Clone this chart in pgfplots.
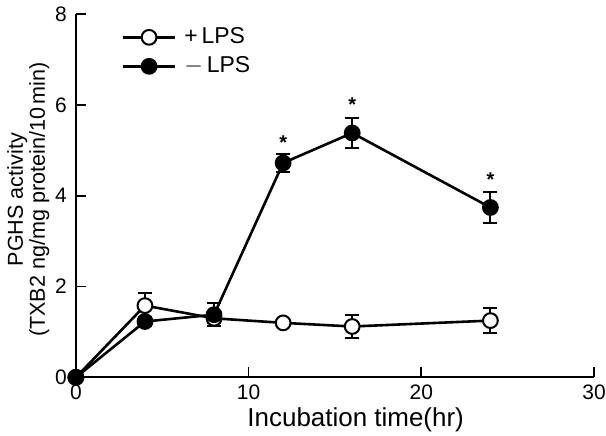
\documentclass[border=0pt]{standalone}
\usepackage{fontspec}
\setmainfont{Liberation Sans}
\usepackage{pgfplots}
\pgfplotsset{compat=1.18}

% time (hr), activity, sd
\pgfplotstableread{
x y e
0 0 0
4 1.58 0.28
8 1.30 0.10
12 1.20 0.08
16 1.12 0.25
24 1.25 0.27
}\withlps
\pgfplotstableread{
x y e
0 0 0
4 1.23 0.10
8 1.38 0.25
12 4.72 0.20
16 5.38 0.33
24 3.74 0.35
}\withoutlps

\begin{document}
\begin{tikzpicture}
\begin{axis}[
  scale only axis,
  width=259.5pt, height=182pt,
  xmin=0, xmax=30, ymin=0, ymax=8,
  axis lines=left,
  axis line style={-, line width=1pt},
  xtick={0,10,20,30}, ytick={0,2,4,6,8},
  tick align=inside, major tick length=5pt,
  tick style={line width=0.9pt, black},
  /pgf/number format/assume math mode=true,
  ticklabel style={font=\fontsize{10.5}{12}\selectfont},
  yticklabel style={xshift=-1pt},
  xlabel={Incubation time(hr)},
  xlabel style={font=\fontsize{13}{15}\selectfont,
    at={(axis description cs:0.54,-0.118)}, anchor=center},
  ylabel={PGHS activity\\(TXB2 ng/mg protein/10\,min)},
  ylabel style={align=center, font=\fontsize{10.8}{11}\selectfont,
    at={(axis description cs:-0.092,0.489)}, anchor=center},
  legend style={draw=none, fill=none, at={(0.076,0.985)}, anchor=north west,
    font=\fontsize{11.5}{13}\selectfont, row sep=1pt},
  legend cell align=left,
  legend image code/.code={
    \draw[#1] (0cm,0cm) -- (0.92cm,0cm);
    \draw[#1, only marks] plot coordinates {(0.46cm,0cm)};
  },
  clip=false,
]
\addplot[black, line width=1.3pt, mark=*, mark size=3.7pt,
  mark options={fill=white, solid, line width=1pt},
  error bars/.cd, y dir=both, y explicit,
  error bar style={line width=1pt},
  error mark options={rotate=90, mark size=3.5pt, line width=1pt}]
  table[x=x, y=y, y error=e] {\withlps};
\addlegendentry{\,+\,LPS}
\addplot[black, line width=1.3pt, mark=*, mark size=3.7pt,
  mark options={fill=black, solid, line width=1pt},
  error bars/.cd, y dir=both, y explicit,
  error bar style={line width=1pt},
  error mark options={rotate=90, mark size=3.5pt, line width=1pt}]
  table[x=x, y=y, y error=e] {\withoutlps};
\addlegendentry{\,$-$\,LPS}
\node[font=\bfseries] at (axis cs:12,5.16) {*};
\node[font=\bfseries] at (axis cs:16,6.0) {*};
\node[font=\bfseries] at (axis cs:24,4.35) {*};
\end{axis}
\pgfresetboundingbox
\path[use as bounding box] ([xshift=-38pt,yshift=-29pt]current axis.south west)
  rectangle ([xshift=6pt,yshift=7pt]current axis.north east);
\end{tikzpicture}
\end{document}
